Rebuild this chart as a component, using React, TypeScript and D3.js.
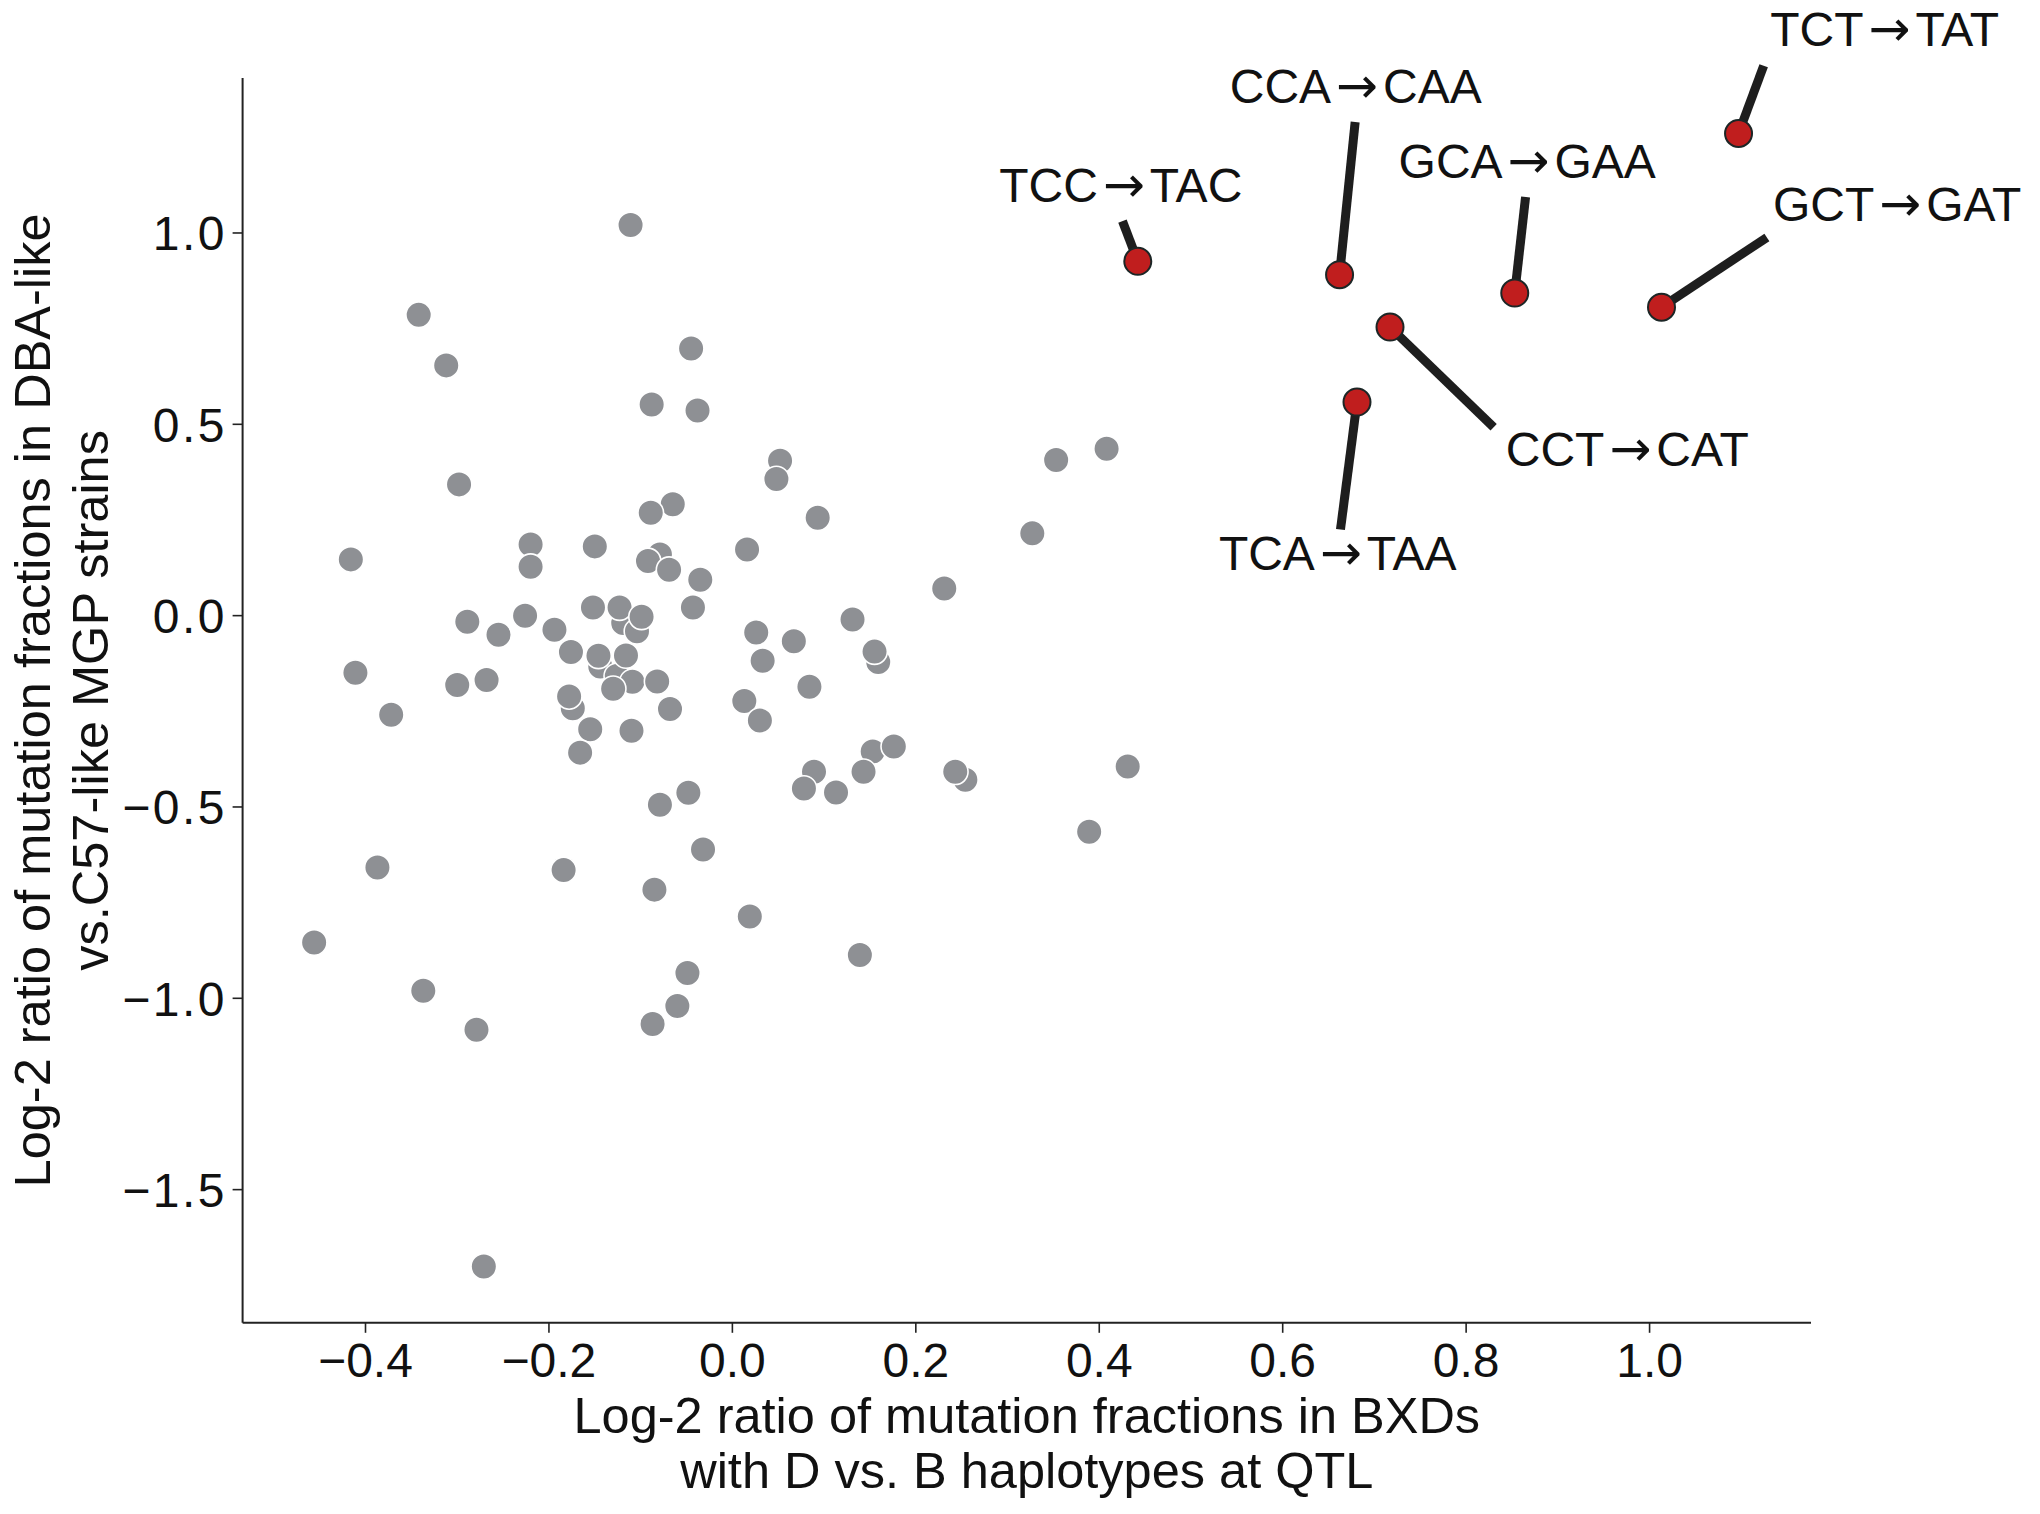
import React from "react";
import * as d3 from "d3";

// Gray points: log2 ratio in BXDs (x) vs MGP strains (y). Partially hidden points first.
const grayX = [
  -0.079, -0.119, -0.104, 0.159, -0.144, -0.126, -0.174, 0.153, 0.089, 0.254,
  -0.111, -0.342, -0.312, -0.045, -0.088, -0.038, 0.353, 0.408, -0.298, 0.052,
  0.048, -0.065, -0.089, 0.093, 0.327, -0.416, -0.220, -0.220, -0.150, 0.016,
  -0.092, -0.069, -0.035, 0.231, -0.289, -0.226, -0.255, -0.194, -0.152, -0.123,
  -0.099, -0.043, 0.131, 0.026, 0.067, 0.033, 0.155, -0.411, -0.176, -0.146,
  -0.116, -0.300, -0.268, -0.109, -0.130, -0.082, -0.178, -0.372, -0.068, 0.013,
  0.030, 0.084, -0.155, -0.110, -0.166, 0.176, 0.143, 0.078, 0.113, 0.243,
  0.431, -0.048, -0.079, 0.389, -0.032, -0.387, -0.184, -0.085, 0.019, -0.456,
  0.139, -0.049, -0.337, -0.060, -0.087, -0.279, -0.271,
];
const grayY = [
  0.160, -0.019, -0.041, -0.121, -0.133, -0.158, -0.242, -0.355, -0.408, -0.429,
  1.021, 0.786, 0.654, 0.698, 0.552, 0.536, 0.407, 0.436, 0.343, 0.405,
  0.357, 0.291, 0.269, 0.256, 0.215, 0.147, 0.186, 0.128, 0.181, 0.173,
  0.143, 0.120, 0.094, 0.071, -0.016, 0.000, -0.050, -0.037, 0.021, 0.021,
  -0.003, 0.021, -0.010, -0.044, -0.067, -0.118, -0.094, -0.149, -0.095, -0.105,
  -0.104, -0.181, -0.168, -0.173, -0.191, -0.172, -0.211, -0.259, -0.244, -0.223,
  -0.274, -0.186, -0.297, -0.301, -0.358, -0.342, -0.408, -0.452, -0.462, -0.408,
  -0.394, -0.463, -0.494, -0.565, -0.611, -0.658, -0.665, -0.716, -0.786, -0.854,
  -0.887, -0.934, -0.980, -1.020, -1.067, -1.082, -1.701,
];

// Highlighted mutation types: [from, to]
const hiFrom = ["TCC", "CCA", "GCA", "GCT", "TCT", "CCT", "TCA"];
const hiTo = ["TAC", "CAA", "GAA", "GAT", "TAT", "CAT", "TAA"];
const hiX = [0.442, 0.662, 0.853, 1.013, 1.097, 0.717, 0.681];
const hiY = [0.926, 0.891, 0.843, 0.806, 1.260, 0.754, 0.558];
// label centres and connector ends (data units)
const labelX = [0.4235, 0.6796, 0.8666, 1.270, 1.2563, 0.9757, 0.660];
const labelY = [1.1267, 1.386, 1.190, 1.0775, 1.534, 0.4364, 0.165];
const lineEndX = [0.4253, 0.679, 0.8648, 1.1279, 1.1244, 0.830, 0.663];
const lineEndY = [1.031, 1.290, 1.094, 0.9885, 1.437, 0.4924, 0.225];

const xTicks = [-0.4, -0.2, 0.0, 0.2, 0.4, 0.6, 0.8, 1.0];
const yTicks = [-1.5, -1.0, -0.5, 0.0, 0.5, 1.0];

const xLabelLines = ["Log-2 ratio of mutation fractions in BXDs", "with D vs. B haplotypes at QTL"];
const yLabelLines = ["Log-2 ratio of mutation fractions in DBA-like", "vs.C57-like MGP strains"];

const W = 2040;
const H = 1514;
const L = 242.6, R = 1811, T = 78, B = 1322.8;
const FONT = "'Liberation Sans', Arial, Helvetica, sans-serif";
const ARROW_FONT = "'DejaVu Sans', 'Liberation Sans', sans-serif";

export default function App() {
  const x = d3.scaleLinear().domain([-0.534, 1.176]).range([L, R]);
  const y = d3.scaleLinear().domain([-1.848, 1.405]).range([B, T]);
  const fmt = d3.format(".1f");

  return (
    <svg
      width={W}
      height={H}
      viewBox={`0 0 ${W} ${H}`}
      style={{ position: "absolute", left: 0, top: 0, background: "#fff" }}
      fontFamily={FONT}
    >
      <rect x={0} y={0} width={W} height={H} fill="#fff" />
      {/* spines */}
      <line x1={L} y1={T} x2={L} y2={B} stroke="#222" strokeWidth={2} />
      <line x1={L} y1={B} x2={R} y2={B} stroke="#222" strokeWidth={2} />
      {/* x ticks */}
      {xTicks.map((t) => (
        <g key={"xt" + t}>
          <line x1={x(t)} x2={x(t)} y1={B} y2={B + 10} stroke="#222" strokeWidth={1.6} />
          <text x={x(t)} y={1377} textAnchor="middle" fontSize={48} fill="#111">
            {fmt(t)}
          </text>
        </g>
      ))}
      {/* y ticks */}
      {yTicks.map((t) => (
        <g key={"yt" + t}>
          <line x1={L - 10} x2={L} y1={y(t)} y2={y(t)} stroke="#222" strokeWidth={1.6} />
          <text
            x={227}
            y={y(t)}
            dy="0.36em"
            textAnchor="end"
            fontSize={48}
            letterSpacing={2.5}
            fill="#111"
          >
            {fmt(t)}
          </text>
        </g>
      ))}
      {/* axis labels */}
      <text x={(L + R) / 2} textAnchor="middle" fontSize={50.5} fill="#111">
        <tspan x={(L + R) / 2} y={1433}>{xLabelLines[0]}</tspan>
        <tspan x={(L + R) / 2} y={1488}>{xLabelLines[1]}</tspan>
      </text>
      <g transform={`translate(0, ${(T + B) / 2}) rotate(-90)`}>
        <text textAnchor="middle" fontSize={50.5} fill="#111">
          <tspan x={0} y={50}>{yLabelLines[0]}</tspan>
          <tspan x={0} y={108}>{yLabelLines[1]}</tspan>
        </text>
      </g>
      {/* gray points */}
      {grayX.map((gx, i) => (
        <circle
          key={"g" + i}
          cx={x(gx)}
          cy={y(grayY[i])}
          r={12.8}
          fill="#8e9094"
          stroke="#ffffff"
          strokeWidth={1.6}
        />
      ))}
      {/* connectors */}
      {hiX.map((hx, i) => (
        <line
          key={"ln" + i}
          x1={x(hx)}
          y1={y(hiY[i])}
          x2={x(lineEndX[i])}
          y2={y(lineEndY[i])}
          stroke="#1e1e1e"
          strokeWidth={9}
        />
      ))}
      {/* highlighted points */}
      {hiX.map((hx, i) => (
        <circle
          key={"h" + i}
          cx={x(hx)}
          cy={y(hiY[i])}
          r={13.5}
          fill="#c01e1e"
          stroke="#1c2626"
          strokeWidth={2}
        />
      ))}
      {/* labels */}
      {hiFrom.map((f, i) => (
        <text
          key={"lab" + i}
          x={x(labelX[i])}
          y={y(labelY[i])}
          dy="0.36em"
          textAnchor="middle"
          fontSize={48}
          fill="#111"
        >
          {f}
          <tspan dx={5} fontFamily={ARROW_FONT} fontSize={50}>→</tspan>
          <tspan dx={5}>{hiTo[i]}</tspan>
        </text>
      ))}
    </svg>
  );
}
